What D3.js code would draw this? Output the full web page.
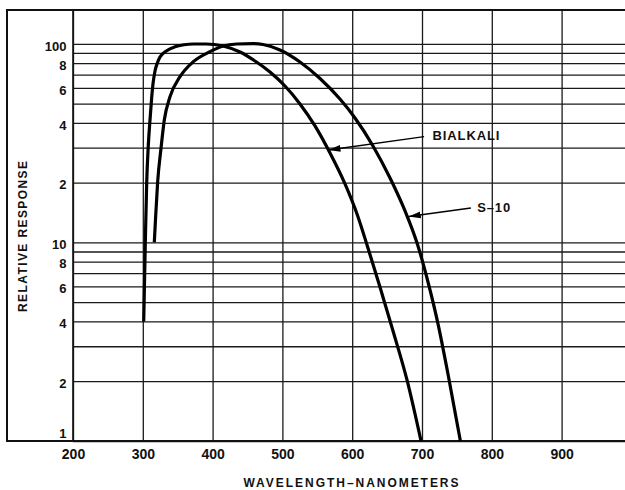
<!doctype html>
<html>

<head>
    <title>Relative response - Bialkali and S-10</title>
    <meta charset="utf-8">

    <style type="text/css">
        body {
            margin: 0;
            background: #fff;
        }

        text {
            font-family: "Liberation Sans", Arial, sans-serif;
            font-weight: bold;
            fill: #111;
        }

        .grid line {
            stroke: #1a1a1a;
            stroke-width: 1.3;
        }

        .frame {
            fill: none;
            stroke: #111;
            stroke-width: 2;
        }

        .curve {
            fill: none;
            stroke: #000;
            stroke-width: 3.2;
            stroke-linejoin: round;
        }

        .pointer {
            stroke: #000;
            stroke-width: 1.4;
        }
    </style>
</head>

<body>
    <div id="plot"></div>
</body>

<script src="https://d3js.org/d3.v7.min.js"></script>

<script>

    // data: [wavelength nm, relative response]
    var bialkali = [
        [301.3, 4], [303.6, 10], [305.6, 20.1], [307.9, 30.9], [310.3, 41.3],
        [312.8, 54], [314.6, 62.8], [317.5, 73], [321.1, 80.5], [324.6, 85.8],
        [334.2, 92.3], [346.1, 96.6], [359, 98.9], [372.4, 99.8], [390.6, 99.8],
        [414.9, 97.5], [439.3, 90.9], [460.8, 81.9], [482.2, 72.1], [503.7, 61.3],
        [525.2, 49.8], [546.7, 38.6], [568.2, 28.2], [589.7, 19.7], [606.9, 13.9],
        [622.6, 9.37], [639.8, 5.96], [658.5, 3.58], [678.5, 2.03], [698.6, 1]
    ];

    var s10 = [
        [316.5, 10], [318.5, 13.7], [321.3, 20.2], [326.1, 29.8], [330.8, 41.3],
        [339, 54.2], [353.3, 68.3], [372.4, 81.3], [396.3, 91.3], [415.3, 97.5],
        [434.5, 99.8], [457.9, 100.2], [472.2, 99.2], [496.6, 93.1], [525.2, 81],
        [553.9, 66.9], [582.5, 52.7], [604, 42.3], [629.8, 30.6], [654.2, 21.1],
        [675.7, 14.4], [692.9, 9.93], [708.6, 6.32], [723, 3.88], [737.3, 2.17],
        [755, 1]
    ];

    // axis ticks and their labels
    var xTicks = [200, 300, 400, 500, 600, 700, 800, 900];
    var yGrid = [1, 2, 3, 4, 5, 6, 7, 8, 9, 10, 20, 30, 40, 50, 60, 70, 80, 90, 100];
    var yLabelValues = [100, 80, 60, 40, 20, 10, 8, 6, 4, 2, 1];
    var yLabelTexts = ["100", "8", "6", "4", "2", "10", "8", "6", "4", "2", "1"];

    // curve names, where the arrows point and where the names sit (data units)
    var curveNames = ["BIALKALI", "S\u201310"];
    var arrowTips = [[566, 29.2], [681, 13.5]];
    var arrowTails = [[703, 34.1], [770, 14.9]];
    var nameAnchors = [[715, 34.7], [779, 15.1]];

    var W = 625, H = 490;
    // note: "top" is taken by window.top, so prefix everything
    var pLeft = 73, pRight = 631.4, pTop = 10, pBottom = 441;

    var x = d3.scaleLinear().domain([200, 1000]).range([pLeft, pRight]);
    var y = d3.scaleLog().domain([1, 148]).range([pBottom, pTop]);

    var svg = d3.select("#plot").append("svg")
        .attr("width", W)
        .attr("height", H);

    svg.append("defs").append("marker")
        .attr("id", "head")
        .attr("viewBox", "0 0 12 8")
        .attr("refX", 12)
        .attr("refY", 4)
        .attr("markerWidth", 12)
        .attr("markerHeight", 8)
        .attr("markerUnits", "userSpaceOnUse")
        .attr("orient", "auto")
        .append("path")
        .attr("d", "M0,0.6 L12,4 L0,7.4 Z")
        .attr("fill", "#000");

    // vertical grid + x labels
    var xAxis = svg.append("g")
        .attr("class", "grid")
        .attr("transform", "translate(0," + pBottom + ")")
        .call(d3.axisBottom(x)
            .tickValues(xTicks)
            .tickSize(-(pBottom - pTop))
            .tickSizeOuter(0)
            .tickPadding(8.5));
    xAxis.select(".domain").remove();
    xAxis.selectAll("text").style("font-size", "14px");

    // horizontal grid + y labels
    var yAxis = svg.append("g")
        .attr("class", "grid")
        .attr("transform", "translate(" + pLeft + ",0)")
        .call(d3.axisLeft(y)
            .tickValues(yGrid)
            .tickSize(-(W - pLeft + 10))
            .tickSizeOuter(0)
            .tickPadding(6.5)
            .tickFormat(function (d) {
                var i = yLabelValues.indexOf(d);
                return i < 0 ? "" : yLabelTexts[i];
            }));
    yAxis.select(".domain").remove();
    yAxis.selectAll("text")
        .style("font-size", "13px")
        .attr("dy", function (d) { return d === 1 ? "-0.3em" : "0.48em"; });

    // outer frame, left axis, bottom axis
    svg.append("path")
        .attr("class", "frame")
        .attr("d", "M" + (W + 5) + "," + pTop + "H7V" + pBottom + "H" + (W + 5));
    svg.append("line")
        .attr("class", "frame")
        .attr("x1", pLeft).attr("x2", pLeft)
        .attr("y1", pTop).attr("y2", pBottom)
        .style("stroke-width", 1.6);

    var line = d3.line()
        .x(function (d) { return x(d[0]); })
        .y(function (d) { return y(d[1]); })
        .curve(d3.curveMonotoneX);

    svg.append("path").datum(bialkali).attr("class", "curve").attr("d", line);
    svg.append("path").datum(s10).attr("class", "curve").attr("d", line);

    // pointers and names
    curveNames.forEach(function (name, i) {
        svg.append("line")
            .attr("class", "pointer")
            .attr("x1", x(arrowTails[i][0])).attr("y1", y(arrowTails[i][1]))
            .attr("x2", x(arrowTips[i][0])).attr("y2", y(arrowTips[i][1]))
            .attr("marker-end", "url(#head)");
        svg.append("text")
            .attr("x", x(nameAnchors[i][0]))
            .attr("y", y(nameAnchors[i][1]))
            .attr("dy", "0.36em")
            .style("font-size", "13px")
            .style("letter-spacing", "0.9px")
            .text(name);
    });

    // axis titles
    svg.append("text")
        .attr("x", 351)
        .attr("y", 487)
        .attr("text-anchor", "middle")
        .attr("textLength", 215)
        .attr("lengthAdjust", "spacing")
        .style("font-size", "12px")
        .text("WAVELENGTH\u2013NANOMETERS");

    svg.append("text")
        .attr("transform", "translate(27,236.5) rotate(-90)")
        .attr("text-anchor", "middle")
        .attr("textLength", 151)
        .attr("lengthAdjust", "spacing")
        .style("font-size", "12px")
        .text("RELATIVE RESPONSE");

</script>

</html>
